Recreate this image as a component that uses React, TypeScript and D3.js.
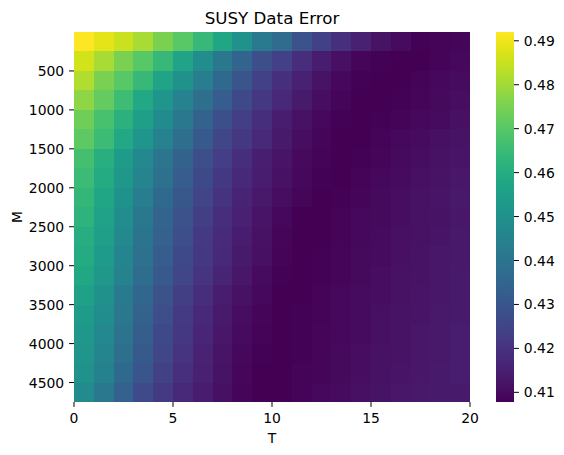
import { useEffect, useRef } from "react"
import * as d3 from "d3"

// T columns (left edge of each cell) and M rows (top edge of each cell)
const tStarts = [0, 1, 2, 3, 4, 5, 6, 7, 8, 9, 10, 11, 12, 13, 14, 15, 16, 17, 18, 19]
const mStarts = [0, 250, 500, 750, 1000, 1250, 1500, 1750, 2000, 2250, 2500, 2750, 3000, 3250, 3500, 3750, 4000, 4250, 4500]
const tStep = 1
const mStep = 250

const xTicks = [0, 5, 10, 15, 20]
const yTicks = [500, 1000, 1500, 2000, 2500, 3000, 3500, 4000, 4500]
const cbarTicks = [0.41, 0.42, 0.43, 0.44, 0.45, 0.46, 0.47, 0.48, 0.49]
const colorMin = 0.4078
const colorMax = 0.492

// error per M row, across T
const errorRows = [
    [0.4920, 0.4886, 0.4853, 0.4811, 0.4752, 0.4701, 0.4642, 0.4575, 0.4499, 0.4423, 0.4373, 0.4289, 0.4238, 0.4196, 0.4154, 0.4120, 0.4103, 0.4082, 0.4086, 0.4091],
    [0.4861, 0.4811, 0.4752, 0.4701, 0.4642, 0.4566, 0.4491, 0.4415, 0.4347, 0.4280, 0.4238, 0.4187, 0.4145, 0.4112, 0.4091, 0.4082, 0.4078, 0.4079, 0.4086, 0.4095],
    [0.4819, 0.4752, 0.4701, 0.4642, 0.4566, 0.4499, 0.4432, 0.4364, 0.4297, 0.4238, 0.4196, 0.4154, 0.4120, 0.4095, 0.4082, 0.4078, 0.4079, 0.4086, 0.4095, 0.4103],
    [0.4777, 0.4718, 0.4659, 0.4583, 0.4516, 0.4448, 0.4381, 0.4322, 0.4263, 0.4213, 0.4171, 0.4137, 0.4107, 0.4091, 0.4078, 0.4079, 0.4082, 0.4091, 0.4099, 0.4107],
    [0.4735, 0.4676, 0.4617, 0.4550, 0.4482, 0.4415, 0.4339, 0.4280, 0.4230, 0.4187, 0.4145, 0.4116, 0.4095, 0.4082, 0.4078, 0.4082, 0.4086, 0.4095, 0.4103, 0.4112],
    [0.4710, 0.4651, 0.4583, 0.4516, 0.4448, 0.4381, 0.4314, 0.4255, 0.4213, 0.4171, 0.4137, 0.4107, 0.4091, 0.4078, 0.4079, 0.4086, 0.4095, 0.4103, 0.4112, 0.4120],
    [0.4667, 0.4608, 0.4541, 0.4474, 0.4406, 0.4339, 0.4280, 0.4230, 0.4187, 0.4150, 0.4124, 0.4099, 0.4086, 0.4078, 0.4082, 0.4091, 0.4099, 0.4107, 0.4116, 0.4124],
    [0.4651, 0.4592, 0.4524, 0.4457, 0.4390, 0.4322, 0.4263, 0.4213, 0.4175, 0.4141, 0.4116, 0.4095, 0.4082, 0.4078, 0.4086, 0.4095, 0.4103, 0.4112, 0.4120, 0.4129],
    [0.4634, 0.4575, 0.4507, 0.4432, 0.4364, 0.4305, 0.4246, 0.4200, 0.4162, 0.4133, 0.4107, 0.4091, 0.4078, 0.4082, 0.4091, 0.4099, 0.4107, 0.4116, 0.4124, 0.4133],
    [0.4621, 0.4562, 0.4491, 0.4415, 0.4347, 0.4289, 0.4234, 0.4187, 0.4154, 0.4124, 0.4095, 0.4078, 0.4079, 0.4086, 0.4095, 0.4099, 0.4107, 0.4116, 0.4120, 0.4129],
    [0.4604, 0.4550, 0.4474, 0.4402, 0.4335, 0.4276, 0.4221, 0.4179, 0.4145, 0.4116, 0.4091, 0.4078, 0.4079, 0.4086, 0.4095, 0.4103, 0.4112, 0.4116, 0.4124, 0.4133],
    [0.4592, 0.4537, 0.4461, 0.4390, 0.4322, 0.4263, 0.4213, 0.4171, 0.4137, 0.4112, 0.4086, 0.4078, 0.4082, 0.4091, 0.4099, 0.4103, 0.4112, 0.4120, 0.4129, 0.4133],
    [0.4579, 0.4524, 0.4448, 0.4377, 0.4310, 0.4255, 0.4204, 0.4162, 0.4129, 0.4103, 0.4082, 0.4078, 0.4082, 0.4091, 0.4099, 0.4107, 0.4116, 0.4120, 0.4129, 0.4137],
    [0.4558, 0.4499, 0.4423, 0.4356, 0.4289, 0.4234, 0.4187, 0.4145, 0.4116, 0.4095, 0.4078, 0.4079, 0.4086, 0.4095, 0.4103, 0.4107, 0.4116, 0.4124, 0.4129, 0.4137],
    [0.4541, 0.4486, 0.4411, 0.4339, 0.4276, 0.4221, 0.4175, 0.4137, 0.4107, 0.4088, 0.4078, 0.4082, 0.4086, 0.4095, 0.4103, 0.4112, 0.4120, 0.4124, 0.4133, 0.4137],
    [0.4528, 0.4474, 0.4398, 0.4326, 0.4263, 0.4213, 0.4166, 0.4129, 0.4102, 0.4085, 0.4078, 0.4082, 0.4091, 0.4095, 0.4103, 0.4112, 0.4120, 0.4129, 0.4133, 0.4141],
    [0.4516, 0.4461, 0.4381, 0.4314, 0.4255, 0.4204, 0.4158, 0.4124, 0.4097, 0.4082, 0.4078, 0.4082, 0.4091, 0.4099, 0.4107, 0.4116, 0.4120, 0.4129, 0.4133, 0.4141],
    [0.4499, 0.4444, 0.4364, 0.4297, 0.4242, 0.4192, 0.4154, 0.4120, 0.4093, 0.4081, 0.4078, 0.4086, 0.4091, 0.4099, 0.4107, 0.4116, 0.4124, 0.4129, 0.4137, 0.4141],
    [0.4478, 0.4415, 0.4335, 0.4267, 0.4217, 0.4175, 0.4141, 0.4113, 0.4088, 0.4078, 0.4078, 0.4086, 0.4095, 0.4103, 0.4112, 0.4120, 0.4129, 0.4133, 0.4137, 0.4137],
]

const FONT = "DejaVu Sans, sans-serif"

export default function App() {
    const svgRef = useRef<SVGSVGElement>(null)

    useEffect(() => {
        if (!svgRef.current) return
        const svg = d3.select(svgRef.current)
        svg.selectAll("*").remove()

        const left = 74, right = 470, top = 32, bottom = 402
        const cbLeft = 496, cbRight = 514
        const tickLen = 4.9, pad = 4.9

        const x = d3.scaleLinear().domain([0, tStarts.length * tStep]).range([left, right])
        const y = d3.scaleLinear().domain([0, mStarts.length * mStep]).range([top, bottom])
        const color = d3.scaleSequential(d3.interpolateViridis).domain([colorMin, colorMax])

        const cells = errorRows.flatMap((row, i) => row.map((v, j) => ({ m: mStarts[i], t: tStarts[j], v })))

        svg.append("g")
            .attr("shape-rendering", "crispEdges")
            .selectAll("rect")
            .data(cells)
            .enter()
            .append("rect")
            .attr("x", d => x(d.t))
            .attr("y", d => y(d.m))
            .attr("width", d => x(d.t + tStep) - x(d.t))
            .attr("height", d => y(d.m + mStep) - y(d.m))
            .attr("fill", d => color(d.v))

        // x axis
        const xg = svg.append("g")
        xTicks.forEach(t => {
            xg.append("line")
                .attr("x1", x(t)).attr("x2", x(t))
                .attr("y1", bottom).attr("y2", bottom + tickLen)
                .attr("stroke", "#000").attr("stroke-width", 1)
            xg.append("text")
                .attr("x", x(t)).attr("y", bottom + tickLen + pad + 11)
                .attr("text-anchor", "middle")
                .style("font-family", FONT).style("font-size", "13.9px")
                .text(t)
        })
        svg.append("text")
            .attr("x", (left + right) / 2).attr("y", 443)
            .attr("text-anchor", "middle")
            .style("font-family", FONT).style("font-size", "13.9px")
            .text("T")

        // y axis
        const yg = svg.append("g")
        yTicks.forEach(m => {
            yg.append("line")
                .attr("x1", left - tickLen).attr("x2", left)
                .attr("y1", y(m)).attr("y2", y(m))
                .attr("stroke", "#000").attr("stroke-width", 1)
            yg.append("text")
                .attr("x", left - tickLen - pad).attr("y", y(m))
                .attr("dy", "0.36em")
                .attr("text-anchor", "end")
                .style("font-family", FONT).style("font-size", "13.9px")
                .text(m)
        })
        svg.append("text")
            .attr("transform", `translate(22,${(top + bottom) / 2}) rotate(-90)`)
            .attr("text-anchor", "middle")
            .style("font-family", FONT).style("font-size", "13.9px")
            .text("M")

        // title
        svg.append("text")
            .attr("x", (left + right) / 2).attr("y", 24)
            .attr("text-anchor", "middle")
            .style("font-family", FONT).style("font-size", "16.7px")
            .text("SUSY Data Error")

        // colorbar
        const cy = d3.scaleLinear().domain([colorMin, colorMax]).range([bottom, top])
        const defs = svg.append("defs")
        const grad = defs.append("linearGradient")
            .attr("id", "cbar").attr("x1", 0).attr("y1", 1).attr("x2", 0).attr("y2", 0)
        d3.range(0, 1.0001, 0.02).forEach(s => {
            grad.append("stop").attr("offset", s).attr("stop-color", d3.interpolateViridis(s))
        })
        svg.append("rect")
            .attr("x", cbLeft).attr("y", top)
            .attr("width", cbRight - cbLeft).attr("height", bottom - top)
            .attr("fill", "url(#cbar)")
        cbarTicks.forEach(v => {
            svg.append("line")
                .attr("x1", cbRight).attr("x2", cbRight + tickLen)
                .attr("y1", cy(v)).attr("y2", cy(v))
                .attr("stroke", "#000").attr("stroke-width", 1)
            svg.append("text")
                .attr("x", cbRight + tickLen + pad).attr("y", cy(v))
                .attr("dy", "0.36em")
                .style("font-family", FONT).style("font-size", "13.9px")
                .text(v.toFixed(2))
        })
    }, [])

    return (
        <div style={{ position: "absolute", left: 0, top: 0 }}>
            <svg ref={svgRef} width={564} height={455} viewBox="0 0 564 455" style={{ display: "block", background: "#fff" }} />
        </div>
    )
}
